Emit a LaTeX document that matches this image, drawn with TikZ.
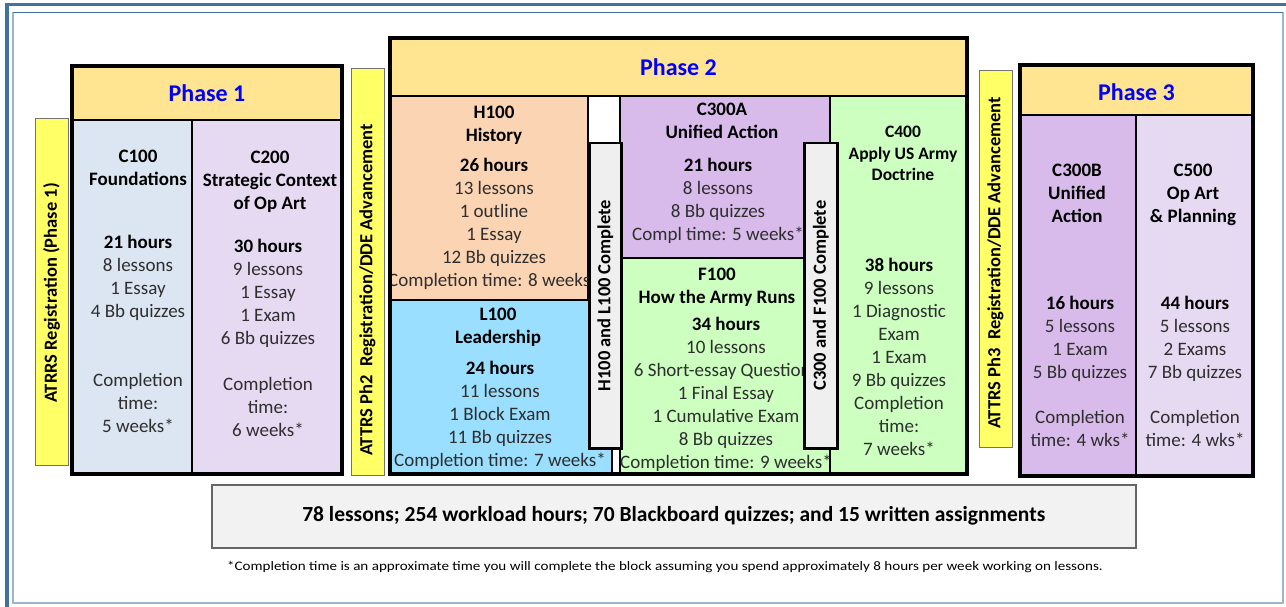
\documentclass[tikz,border=0pt]{standalone}
\usepackage{fontspec}
\setmainfont{Carlito}
\usetikzlibrary{positioning}
\definecolor{hdr}{HTML}{FFE491}
\definecolor{regyel}{HTML}{FFFF66}
\definecolor{bluefill}{HTML}{DCE6F2}
\definecolor{lavfill}{HTML}{E6DAF3}
\definecolor{purpfill}{HTML}{D8BBEB}
\definecolor{peachfill}{HTML}{FBD4B4}
\definecolor{skyfill}{HTML}{9ADFFF}
\definecolor{greenfill}{HTML}{CCFFC0}
\definecolor{donegray}{HTML}{EFEFEF}
\definecolor{sumgray}{HTML}{F2F2F2}
\definecolor{phaseblue}{HTML}{0000FF}
\definecolor{textgray}{HTML}{2E2E2E}
\definecolor{framedark}{HTML}{41719C}
\definecolor{framelight}{HTML}{9DB5CE}
\tikzstyle{cell} = [draw=black,line width=2.5pt,rectangle,inner sep=0,outer sep=0,anchor=north west]
\tikzstyle{frame} = [draw=black,line width=4pt,rectangle,inner sep=0,outer sep=0,anchor=north west]
\tikzstyle{regbar} = [draw=black!55,line width=1pt,fill=regyel,rectangle,inner sep=0,anchor=north west]
\tikzstyle{donebar} = [draw=black,line width=2.5pt,fill=donegray,rectangle,inner sep=0,anchor=north west]
\tikzstyle{phase} = [font=\fontsize{24}{28}\selectfont\bfseries,text=phaseblue]
\tikzstyle{title} = [align=center,inner sep=0,anchor=north,font=\fontsize{19}{23}\selectfont\bfseries]
\tikzstyle{body} = [align=center,inner sep=0,anchor=north,font=\fontsize{19}{23}\selectfont,text=textgray]
\tikzstyle{vlabel} = [rotate=90,inner sep=0,font=\fontsize{18.5}{22}\selectfont\bfseries]
\newcommand{\hrs}[1]{\textcolor{black}{\bfseries #1}}

\begin{document}
\begin{tikzpicture}[x=1pt,y=-1pt]
  \useasboundingbox (0,0) rectangle (1286,607);
  \fill[white] (0,0) rectangle (1286,607);
  \draw[line width=1.5pt,framelight] (13,12.5) rectangle (1283,603);
  \draw[line width=1.5pt,framedark] (13,12.5) -- (1283,12.5);
  \draw[line width=3.5pt,framedark] (7,607) -- (7,4.5) -- (1286,4.5);

  % registration bars
  \node[regbar,minimum width=33pt,minimum height=347pt] (reg1) at (35,118) {};
  \node[regbar,minimum width=33pt,minimum height=407pt] (reg2) at (351,68) {};
  \node[regbar,minimum width=33pt,minimum height=377pt] (reg3) at (979,70) {};
  \node[vlabel] (reg1lbl) at (51.5,293) {ATRRS Registration (Phase 1)};
  \node[vlabel] (reg2lbl) at (367.5,290) {ATTRS Ph2\ \ Registration/DDE Advancement};
  \node[vlabel] (reg3lbl) at (995.5,263) {ATTRS Ph3\ \ Registration/DDE Advancement};

  % phase 1
  \node[cell,fill=hdr,minimum width=270pt,minimum height=54pt] (hd1) at (72,66) {};
  \node[cell,fill=bluefill,minimum width=120pt,minimum height=354pt] (c100) at (72,120) {};
  \node[cell,fill=lavfill,minimum width=150pt,minimum height=354pt] (c200) at (192,120) {};
  \node[frame,minimum width=270pt,minimum height=354pt+54pt] (ph1) at (72,66) {};
  \node[phase] (ph1lbl) at (hd1) {Phase 1};
  \node[title] (c100t) at (138,150) {C100\\Foundations};
  \node[body] (c100b) at (138,235) {\hrs{21 hours}\\8 lessons\\1 Essay\\4 Bb quizzes\\[46pt]Completion\\time:\\5 weeks*};
  \node[title] (c200t) at (270,151) {C200\\Strategic Context\\of Op Art};
  \node[body] (c200b) at (268,239) {\hrs{30 hours}\\9 lessons\\1 Essay\\1 Exam\\6 Bb quizzes\\[23pt]Completion\\time:\\6 weeks*};

  % phase 2
  \node[cell,fill=hdr,minimum width=577pt,minimum height=58pt] (hd2) at (390,38) {};
  \node[cell,fill=peachfill,minimum width=198pt,minimum height=204pt] (h100) at (390,96) {};
  \node[cell,fill=skyfill,minimum width=222pt,minimum height=174pt] (l100) at (390,300) {};
  \node[cell,fill=purpfill,minimum width=210pt,minimum height=162pt] (c300a) at (620,96) {};
  \node[cell,fill=greenfill,minimum width=210pt,minimum height=216pt] (f100) at (620,258) {};
  \node[cell,fill=greenfill,minimum width=137pt,minimum height=378pt] (c400) at (830,96) {};
  \node[phase] (ph2lbl) at (hd2) {Phase 2};
  \begin{scope}
    \clip ([xshift=1.5pt]h100.north west) rectangle (h100.south east);
    \node[title] (h100t) at (494,106) {H100\\History};
    \node[body] (h100b) at (494,158) {\hrs{26 hours}\\13 lessons\\1 outline\\1 Essay\\12 Bb quizzes\\Completion time: 8 weeks*};
  \end{scope}
  \node[title] (l100t) at (498,308) {L100\\Leadership};
  \node[body] (l100b) at (500,361) {\hrs{24 hours}\\11 lessons\\1 Block Exam\\11 Bb quizzes\\Completion time: 7 weeks*};
  \node[title] (c300at) at (722,103) {C300A\\Unified Action};
  \node[body] (c300ab) at (718,158) {\hrs{21 hours}\\8 lessons\\8 Bb quizzes\\Compl time: 5 weeks*};
  \node[title] (f100t) at (717,268) {F100\\How the Army Runs};
  \node[body] (f100b) at (726,317) {\hrs{34 hours}\\10 lessons\\6 Short-essay Questions\\1 Final Essay\\1 Cumulative Exam\\8 Bb quizzes\\Completion time: 9 weeks*};
  \node[title,font=\fontsize{17.5}{21.5}\selectfont\bfseries] (c400t) at (903,126) {C400\\Apply US Army\\Doctrine};
  \node[body] (c400b) at (899,258) {\hrs{38 hours}\\9 lessons\\1 Diagnostic\\Exam\\1 Exam\\9 Bb quizzes\\Completion\\time:\\7 weeks*};
  \node[donebar,minimum width=32pt,minimum height=305pt] (hldone) at (588,142) {};
  \node[donebar,minimum width=33pt,minimum height=305pt] (cfdone) at (803,142) {};
  \node[vlabel] (hldonelbl) at (hldone) {H100 and L100 Complete};
  \node[vlabel] (cfdonelbl) at (cfdone) {C300 and F100 Complete};
  \node[frame,minimum width=577pt,minimum height=436pt] (ph2) at (390,38) {};

  % phase 3
  \node[cell,fill=hdr,minimum width=233pt,minimum height=50pt] (hd3) at (1020,65) {};
  \node[cell,fill=purpfill,minimum width=116pt,minimum height=361pt] (c300b) at (1020,115) {};
  \node[cell,fill=lavfill,minimum width=117pt,minimum height=361pt] (c500) at (1136,115) {};
  \node[frame,minimum width=233pt,minimum height=411pt] (ph3) at (1020,65) {};
  \node[phase,yshift=-2pt] (ph3lbl) at (hd3) {Phase 3};
  \node[title] (c300bt) at (1077,164) {C300B\\Unified\\Action};
  \node[body] (c300bb) at (1080,296) {\hrs{16 hours}\\5 lessons\\1 Exam\\5 Bb quizzes\\[22pt]Completion\\time: 4 wks*};
  \node[title] (c500t) at (1193,164) {C500\\Op Art\\\& Planning};
  \node[body] (c500b) at (1195,296) {\hrs{44 hours}\\5 lessons\\2 Exams\\7 Bb quizzes\\[22pt]Completion\\time: 4 wks*};

  % totals
  \node[draw=black!60,line width=1.5pt,fill=sumgray,anchor=north west,minimum width=924pt,minimum height=63pt,inner sep=0] (totals) at (211,484) {};
  \node[font=\fontsize{21.5}{25}\selectfont\bfseries] (totalslbl) at (totals) {78 lessons; 254 workload hours; 70 Blackboard quizzes; and 15 written assignments};
  \node[font=\fontsize{13}{15}\selectfont] (note) at (665,567) {\scalebox{1.16}[1]{*Completion time is an approximate time you will complete the block assuming you spend approximately 8 hours per week working on lessons.}};
\end{tikzpicture}
\end{document}
